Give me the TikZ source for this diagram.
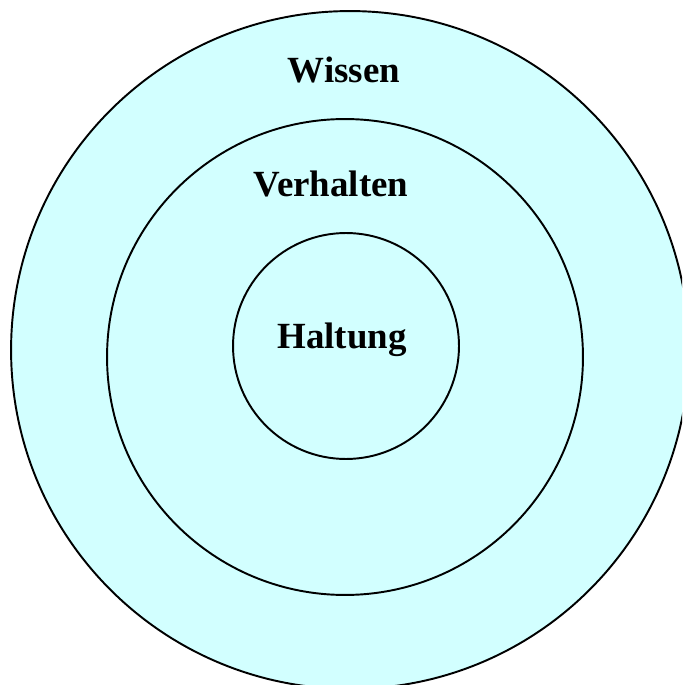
\documentclass[tikz,border=0pt]{standalone}
\usepackage{fontspec}
\setmainfont{Liberation Serif}
\usetikzlibrary{positioning}
\definecolor{ringcyan}{HTML}{D2FFFF}

\begin{document}
\begin{tikzpicture}[x=0.02cm, y=-0.02cm, font=\bfseries\fontsize{21}{25}\selectfont]
  \tikzset{ring/.style={draw, circle, line width=1.1pt, fill=ringcyan, inner sep=0pt, outer sep=0pt},
    label/.style={anchor=base, inner sep=0pt}}
  \useasboundingbox (0,0) rectangle (682,685);
  \clip (0,0) rectangle (682,685);
  % three nested rings
  \node[ring, minimum size=13.56cm] (outer) at (350,350) {};
  \node[ring, minimum size=9.52cm] (middle) at (345,357) {};
  \node[ring, minimum size=4.52cm] (inner) at (346,346) {};
  % ring names
  \node[label] (wissen) at (344,83) {Wissen};
  \node[label] (verhalten) at (331,197) {Verhalten};
  \node[label] (haltung) at (342,348) {Haltung};
\end{tikzpicture}
\end{document}
